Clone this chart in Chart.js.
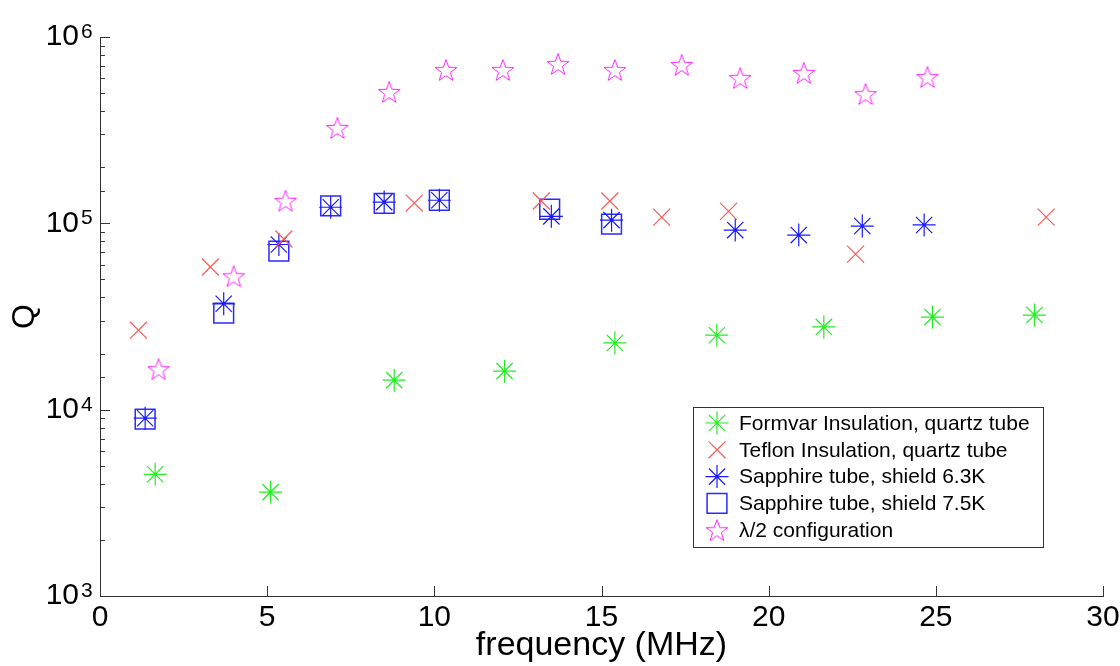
<!DOCTYPE html>
<html>
<head>
<meta charset="utf-8">
<script src="https://cdn.jsdelivr.net/npm/chart.js@4.4.1/dist/chart.umd.min.js"></script>
<style>
    html, body { margin: 0; padding: 0; background: #fff; }
    #wrap { width: 1120px; height: 666px; }
</style>
</head>
<body>
<div id="wrap"><canvas id="qChart" width="1120" height="666"></canvas></div>
<script>
// Q versus frequency
const formvarFreq = [1.65, 5.1, 8.8, 12.1, 15.4, 18.45, 21.65, 24.9, 27.95];
const formvarQ    = [4500, 3610, 14400, 16100, 22800, 25100, 27800, 31400, 32200];

const teflonFreq = [1.15, 3.3, 5.5, 9.4, 13.2, 15.25, 16.8, 18.8, 22.6, 28.3];
const teflonQ    = [26700, 58300, 82400, 128500, 131800, 131800, 108000, 116000, 68400, 108000];

const sapph63Freq = [1.35, 3.7, 5.35, 6.9, 8.5, 10.15, 13.5, 15.3, 19.0, 20.9, 22.8, 24.65];
const sapph63Q    = [9000, 37000, 77000, 122000, 130000, 133000, 109000, 104000, 92000, 86500, 96700, 98000];

const sapph75Freq = [1.35, 3.7, 5.35, 6.9, 8.5, 10.15, 13.45, 15.3];
const sapph75Q    = [8900, 33000, 71000, 124000, 128000, 133000, 119000, 99000];

const halfWaveFreq = [1.75, 4.0, 5.55, 7.1, 8.65, 10.35, 12.05, 13.7, 15.4, 17.4, 19.15, 21.05, 22.9, 24.75];
const halfWaveQ    = [16500, 52000, 132000, 325000, 507000, 665000, 665000, 716000, 665000, 708000, 602000, 641000, 494000, 610000];

const xTicks = [0, 5, 10, 15, 20, 25, 30];

const FONT = '"Liberation Sans", Arial, sans-serif';

function toPoints(xs, ys) {
    return xs.map((x, i) => ({ x: x, y: ys[i] }));
}

function isDecade(v) {
    const e = Math.log10(v);
    return Math.abs(e - Math.round(e)) < 1e-9;
}

// matlab style pentagram marker
function makePentagram(color) {
    const c = document.createElement('canvas');
    c.width = 26;
    c.height = 26;
    const g = c.getContext('2d');
    const R = 11.5, r = 4.6;
    g.beginPath();
    for (let i = 0; i < 10; i++) {
        const a = -Math.PI / 2 + i * Math.PI / 5;
        const rad = i % 2 === 0 ? R : r;
        const px = 13 + rad * Math.cos(a);
        const py = 14 + rad * Math.sin(a);
        if (i === 0) g.moveTo(px, py); else g.lineTo(px, py);
    }
    g.closePath();
    g.strokeStyle = color;
    g.lineWidth = 1;
    g.stroke();
    return c;
}

// inward tick marks + decade exponents like the original figure
const inwardTicks = {
    id: 'inwardTicks',
    afterDatasetsDraw(chart) {
        const ctx = chart.ctx;
        const xs = chart.scales.x, ys = chart.scales.y;
        ctx.save();
        ctx.strokeStyle = '#333';
        ctx.lineWidth = 1;
        ys.ticks.forEach(t => {
            const major = isDecade(t.value);
            const py = Math.round(ys.getPixelForValue(t.value)) + 0.5;
            ctx.beginPath();
            ctx.moveTo(xs.left, py);
            ctx.lineTo(xs.left + (major ? 10 : 5), py);
            ctx.stroke();
        });
        xs.ticks.forEach(t => {
            const px = Math.round(xs.getPixelForValue(t.value)) + 0.5;
            ctx.beginPath();
            ctx.moveTo(px, ys.bottom);
            ctx.lineTo(px, ys.bottom - 10);
            ctx.stroke();
        });
        // exponent of each decade label
        ctx.fillStyle = '#000';
        ctx.font = '21px ' + FONT;
        ctx.textAlign = 'left';
        ctx.textBaseline = 'alphabetic';
        ys.ticks.forEach(t => {
            if (!isDecade(t.value)) return;
            const py = ys.getPixelForValue(t.value);
            ctx.fillText(String(Math.round(Math.log10(t.value))), 81, py + 1);
        });
        ctx.restore();
    }
};

// boxed legend in the lower right, like matlab
const boxLegend = {
    id: 'boxLegend',
    afterDraw(chart) {
        const ctx = chart.ctx;
        const left = 693, top = 407, w = 350, h = 140;
        ctx.save();
        ctx.fillStyle = '#fff';
        ctx.fillRect(left, top, w, h);
        ctx.strokeStyle = '#333';
        ctx.lineWidth = 1;
        ctx.strokeRect(left + 0.5, top + 0.5, w, h);
        ctx.font = '21px ' + FONT;
        ctx.textBaseline = 'middle';
        chart.data.datasets.forEach((ds, i) => {
            const cy = top + 16 + i * 26.8;
            ctx.strokeStyle = ds.borderColor;
            ctx.fillStyle = ds.backgroundColor;
            ctx.lineWidth = ds.borderWidth;
            Chart.helpers.drawPoint(ctx, {
                pointStyle: ds.pointStyle,
                radius: ds.pointRadius,
                rotation: 0,
                borderWidth: ds.borderWidth
            }, left + 24, cy);
            ctx.fillStyle = '#000';
            ctx.fillText(ds.label, left + 46, cy + 1);
        });
        ctx.restore();
    }
};

const ctx = document.getElementById('qChart').getContext('2d');
new Chart(ctx, {
    type: 'scatter',
    data: {
        datasets: [
            {
                label: 'Formvar Insulation, quartz tube',
                data: toPoints(formvarFreq, formvarQ),
                pointStyle: 'star',
                pointRadius: 11.5,
                borderColor: '#22ee22',
                backgroundColor: '#22ee22',
                borderWidth: 1.2
            },
            {
                label: 'Teflon Insulation, quartz tube',
                data: toPoints(teflonFreq, teflonQ),
                pointStyle: 'crossRot',
                pointRadius: 12,
                borderColor: '#ff5a5a',
                backgroundColor: '#ff5a5a',
                borderWidth: 1.2
            },
            {
                label: 'Sapphire tube, shield 6.3K',
                data: toPoints(sapph63Freq, sapph63Q),
                pointStyle: 'star',
                pointRadius: 11.5,
                borderColor: '#1a1aff',
                backgroundColor: '#1a1aff',
                borderWidth: 1.2
            },
            {
                label: 'Sapphire tube, shield 7.5K',
                data: toPoints(sapph75Freq, sapph75Q),
                pointStyle: 'rect',
                pointRadius: 14,
                borderColor: '#2a2aff',
                backgroundColor: 'rgba(0,0,0,0)',
                borderWidth: 1.5
            },
            {
                label: '\u03BB/2 configuration',
                data: toPoints(halfWaveFreq, halfWaveQ),
                pointStyle: makePentagram('#ff22ff'),
                pointRadius: 12,
                borderColor: '#ff22ff',
                backgroundColor: '#ff22ff',
                borderWidth: 1
            }
        ]
    },
    options: {
        responsive: false,
        animation: false,
        layout: { padding: { top: 37, right: 17, left: 0, bottom: 0 } },
        plugins: {
            legend: { display: false },
            tooltip: { enabled: false }
        },
        scales: {
            x: {
                type: 'linear',
                min: 0,
                max: 30,
                afterBuildTicks: function(scale) {
                    scale.ticks = xTicks.map(v => ({ value: v }));
                },
                grid: { display: false, drawTicks: false },
                border: { display: true, color: '#333', width: 1 },
                ticks: {
                    color: '#000',
                    padding: 4,
                    font: { family: FONT, size: 30 }
                },
                title: {
                    display: true,
                    text: 'frequency (MHz)',
                    color: '#000',
                    padding: { top: 0, bottom: 0 },
                    font: { family: FONT, size: 34 }
                },
                afterFit: function(scale) {
                    scale.height = 70;
                    scale.paddingLeft = 0;
                    scale.paddingRight = 0;
                }
            },
            y: {
                type: 'logarithmic',
                min: 1000,
                max: 1000000,
                grid: { display: false, drawTicks: false },
                border: { display: true, color: '#333', width: 1 },
                ticks: {
                    autoSkip: false,
                    color: '#000',
                    padding: 21,
                    font: { family: FONT, size: 30 },
                    callback: function(value) {
                        return isDecade(value) ? '10' : '';
                    }
                },
                title: {
                    display: true,
                    text: 'Q',
                    color: '#000',
                    padding: { top: 6, bottom: 0 },
                    font: { family: FONT, size: 32 }
                },
                afterFit: function(scale) {
                    scale.width = 100;
                    scale.paddingTop = 0;
                    scale.paddingBottom = 0;
                }
            }
        }
    },
    plugins: [inwardTicks, boxLegend]
});
</script>
</body>
</html>
